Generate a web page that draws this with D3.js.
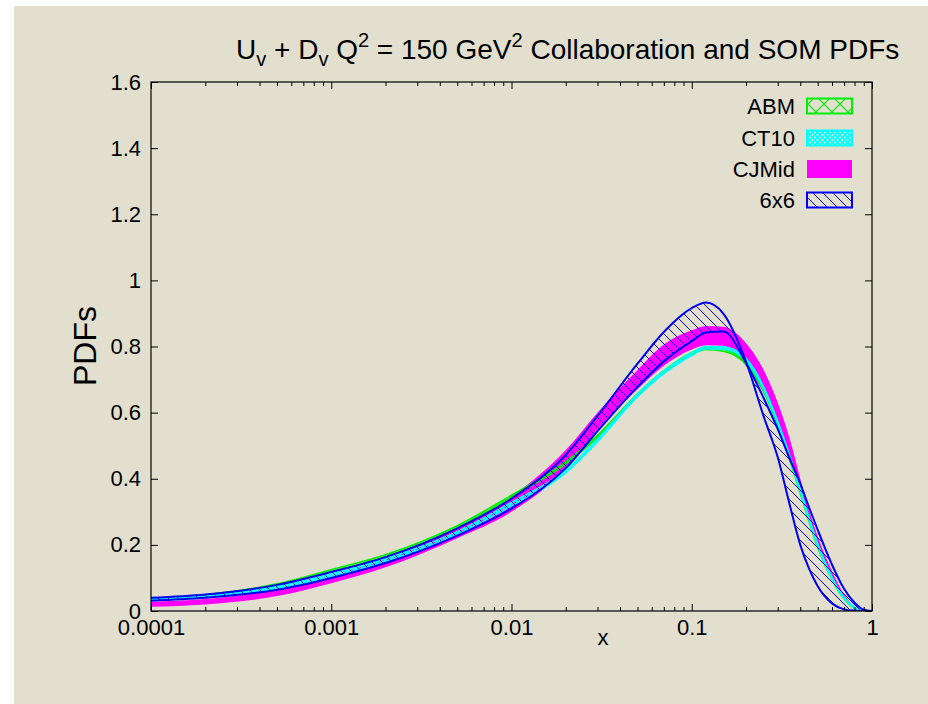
<!DOCTYPE html>
<html><head><meta charset="utf-8">
<script src="https://cdn.jsdelivr.net/npm/d3@7"></script>
<style>body{margin:0;background:#fff} svg{display:block}</style>
</head><body>
<script>
// ---------------- data ----------------
const xValues   = [0.0001, 0.0002, 0.0005, 0.001, 0.002, 0.005, 0.01, 0.02, 0.03, 0.05, 0.07, 0.1, 0.12, 0.15, 0.2, 0.25, 0.3, 0.35, 0.4, 0.45, 0.5, 0.6, 0.7, 0.8, 0.9, 1];
const abmLow    = [0.033, 0.045, 0.077, 0.119, 0.164, 0.252, 0.344, 0.445, 0.525, 0.651, 0.721, 0.776, 0.791, 0.786, 0.746, 0.666, 0.561, 0.456, 0.356, 0.266, 0.192, 0.095, 0.036, 0.008, 0.001, 0];
const abmHigh   = [0.037, 0.049, 0.082, 0.125, 0.170, 0.258, 0.350, 0.451, 0.531, 0.657, 0.727, 0.782, 0.797, 0.792, 0.752, 0.672, 0.567, 0.462, 0.362, 0.272, 0.198, 0.099, 0.039, 0.010, 0.002, 0];
const ct10Low   = [0.033, 0.043, 0.068, 0.104, 0.150, 0.232, 0.318, 0.418, 0.512, 0.648, 0.718, 0.773, 0.793, 0.792, 0.757, 0.672, 0.567, 0.462, 0.362, 0.272, 0.197, 0.098, 0.038, 0.009, 0.001, 0];
const ct10High  = [0.037, 0.047, 0.074, 0.112, 0.158, 0.240, 0.328, 0.426, 0.520, 0.656, 0.726, 0.781, 0.800, 0.799, 0.764, 0.679, 0.574, 0.469, 0.369, 0.278, 0.203, 0.102, 0.041, 0.011, 0.002, 0];
const cjLow     = [0.013, 0.020, 0.045, 0.084, 0.132, 0.220, 0.300, 0.430, 0.550, 0.671, 0.742, 0.791, 0.804, 0.802, 0.741, 0.660, 0.565, 0.460, 0.360, 0.265, 0.190, 0.095, 0.036, 0.008, 0.000, 0];
const cjHigh    = [0.028, 0.036, 0.066, 0.107, 0.158, 0.250, 0.346, 0.487, 0.600, 0.729, 0.806, 0.849, 0.862, 0.860, 0.810, 0.730, 0.630, 0.520, 0.400, 0.300, 0.225, 0.120, 0.050, 0.014, 0.001, 0];
const sixCurveA = [0.040, 0.050, 0.079, 0.118, 0.163, 0.250, 0.340, 0.472, 0.590, 0.748, 0.844, 0.916, 0.933, 0.899, 0.754, 0.590, 0.465, 0.320, 0.200, 0.125, 0.075, 0.023, 0.005, 0.001, 0.000, 0];
const sixCurveB = [0.031, 0.040, 0.064, 0.100, 0.145, 0.228, 0.310, 0.432, 0.544, 0.678, 0.755, 0.816, 0.842, 0.845, 0.750, 0.645, 0.550, 0.460, 0.385, 0.310, 0.245, 0.140, 0.067, 0.025, 0.004, 0];

const yTicks = [0, 0.2, 0.4, 0.6, 0.8, 1, 1.2, 1.4, 1.6];
const yTickLabels = ["0", "0.2", "0.4", "0.6", "0.8", "1", "1.2", "1.4", "1.6"];
const xTicks = [0.0001, 0.001, 0.01, 0.1, 1];
const xTickLabels = ["0.0001", "0.001", "0.01", "0.1", "1"];
const legendLabels = ["ABM", "CT10", "CJMid", "6x6"];

// ---------------- layout ----------------
const W = 928, H = 704;
const L = 151, R = 872, T = 82, B = 611;
const FONT = "'Liberation Sans', Arial, Helvetica, sans-serif";

const svg = d3.select("body").append("svg").attr("width", W).attr("height", H)
  .style("font-family", FONT);
svg.append("rect").attr("width", W).attr("height", H).attr("fill", "#ffffff");
svg.append("rect").attr("x", 14).attr("y", 6).attr("width", W - 14).attr("height", H - 6).attr("fill", "#e2dfcf");

const x = d3.scaleLog().domain([1e-4, 1]).range([L, R]);
const y = d3.scaleLinear().domain([0, 1.6]).range([B, T]);

const defs = svg.append("defs");
defs.append("clipPath").attr("id", "clip").append("rect")
  .attr("x", L).attr("y", T).attr("width", R - L).attr("height", B - T);

function pat(id, size, color, d, sw) {
  const p = defs.append("pattern").attr("id", id).attr("patternUnits", "userSpaceOnUse")
    .attr("width", size).attr("height", size);
  p.append("path").attr("d", d).attr("stroke", color).attr("stroke-width", sw).attr("fill", "none");
}
pat("hatchBlue", 10, "#0000ff", "M0,0L10,10M-2,8L2,12M8,-2L12,2", 1);
pat("crossGreen", 16, "#00ee00", "M0,0L16,16M16,0L0,16", 1.2);
pat("crossCyan", 5, "#00ffff", "M0,0L5,5M5,0L0,5", 1.6);

const rows = xValues.map((xv, i) => ({
  x: xv, abmL: abmLow[i], abmH: abmHigh[i], ctL: ct10Low[i], ctH: ct10High[i],
  cjL: cjLow[i], cjH: cjHigh[i], a: sixCurveA[i], b: sixCurveB[i]
}));

const plot = svg.append("g").attr("clip-path", "url(#clip)");
const curve = d3.curveMonotoneX;
const area = (lo, hi) => d3.area().curve(curve).x(d => x(d.x)).y0(d => y(d[lo])).y1(d => y(d[hi]));
const line = (k) => d3.line().curve(curve).x(d => x(d.x)).y(d => y(d[k]));

// CJMid solid band
plot.append("path").datum(rows).attr("d", area("cjL", "cjH")).attr("fill", "#ff00ff");
// ABM
plot.append("path").datum(rows).attr("d", area("abmL", "abmH")).attr("fill", "url(#crossGreen)");
["abmL", "abmH"].forEach(k => plot.append("path").datum(rows).attr("d", line(k))
  .attr("fill", "none").attr("stroke", "#00ee00").attr("stroke-width", 1.6));
// CT10
plot.append("path").datum(rows).attr("d", area("ctL", "ctH")).attr("fill", "url(#crossCyan)");
["ctL", "ctH"].forEach(k => plot.append("path").datum(rows).attr("d", line(k))
  .attr("fill", "none").attr("stroke", "#00ffff").attr("stroke-width", 1.6));
// 6x6
plot.append("path").datum(rows).attr("d", area("b", "a")).attr("fill", "url(#hatchBlue)");
["a", "b"].forEach(k => plot.append("path").datum(rows).attr("d", line(k))
  .attr("fill", "none").attr("stroke", "#0000ee").attr("stroke-width", 2));

// ---------------- axes ----------------
const minorX = [];
for (let e = -4; e < 0; e++) for (let m = 2; m <= 9; m++) minorX.push(m * Math.pow(10, e));

function styleAxis(g) {
  g.select(".domain").remove();
  g.selectAll("line").attr("stroke", "#000").attr("stroke-width", 1);
  g.selectAll("text").attr("font-family", FONT).attr("font-size", 22).attr("fill", "#000");
}
svg.append("g").attr("transform", `translate(0,${B})`)
  .call(d3.axisBottom(x).tickValues(xTicks).tickSize(-7).tickPadding(8)
    .tickFormat((d, i) => xTickLabels[i])).call(styleAxis);
svg.append("g").attr("transform", `translate(0,${B})`)
  .call(d3.axisBottom(x).tickValues(minorX).tickSize(-4).tickFormat("")).call(styleAxis);
svg.append("g").attr("transform", `translate(0,${T})`)
  .call(d3.axisTop(x).tickValues(xTicks).tickSize(-7).tickFormat("")).call(styleAxis);
svg.append("g").attr("transform", `translate(0,${T})`)
  .call(d3.axisTop(x).tickValues(minorX).tickSize(-4).tickFormat("")).call(styleAxis);
svg.append("g").attr("transform", `translate(${L},0)`)
  .call(d3.axisLeft(y).tickValues(yTicks).tickSize(-7).tickPadding(10)
    .tickFormat((d, i) => yTickLabels[i])).call(styleAxis);
svg.append("g").attr("transform", `translate(${R},0)`)
  .call(d3.axisRight(y).tickValues(yTicks).tickSize(-7).tickFormat("")).call(styleAxis);

svg.append("rect").attr("x", L).attr("y", T).attr("width", R - L).attr("height", B - T)
  .attr("fill", "none").attr("stroke", "#000").attr("stroke-width", 1.2);

// axis titles
svg.append("text").attr("x", 603).attr("y", 645).attr("text-anchor", "middle")
  .attr("font-size", 22).text("x");
svg.append("text").attr("transform", "translate(96,346) rotate(-90)").attr("text-anchor", "middle")
  .attr("font-size", 32).text("PDFs");

// title
const title = svg.append("text").attr("x", 236).attr("y", 59).attr("font-size", 28);
title.append("tspan").text("U");
title.append("tspan").attr("dy", 7).attr("font-size", 20).text("v");
title.append("tspan").attr("dy", -7).text(" + D");
title.append("tspan").attr("dy", 7).attr("font-size", 20).text("v");
title.append("tspan").attr("dy", -7).text(" Q");
title.append("tspan").attr("dy", -12).attr("font-size", 20).text("2");
title.append("tspan").attr("dy", 12).text(" = 150 GeV");
title.append("tspan").attr("dy", -12).attr("font-size", 20).text("2");
title.append("tspan").attr("dy", 12).text(" Collaboration and SOM PDFs");

// ---------------- legend ----------------
const legendY = [106, 138, 169, 200];
const legendFill = ["url(#crossGreen)", "url(#crossCyan)", "#ff00ff", "url(#hatchBlue)"];
const legendStroke = ["#00ee00", "#00ffff", "none", "#0000ff"];
legendLabels.forEach((lab, i) => {
  const g = svg.append("g");
  g.append("text").attr("x", 795).attr("y", legendY[i] + 8).attr("text-anchor", "end")
    .attr("font-size", 22).text(lab);
  const h = i === 2 ? 18 : 15;
  g.append("rect").attr("x", 807).attr("y", legendY[i] - h / 2).attr("width", 45).attr("height", h)
    .attr("fill", legendFill[i]).attr("stroke", legendStroke[i]).attr("stroke-width", 2);
});
</script>
</body></html>
